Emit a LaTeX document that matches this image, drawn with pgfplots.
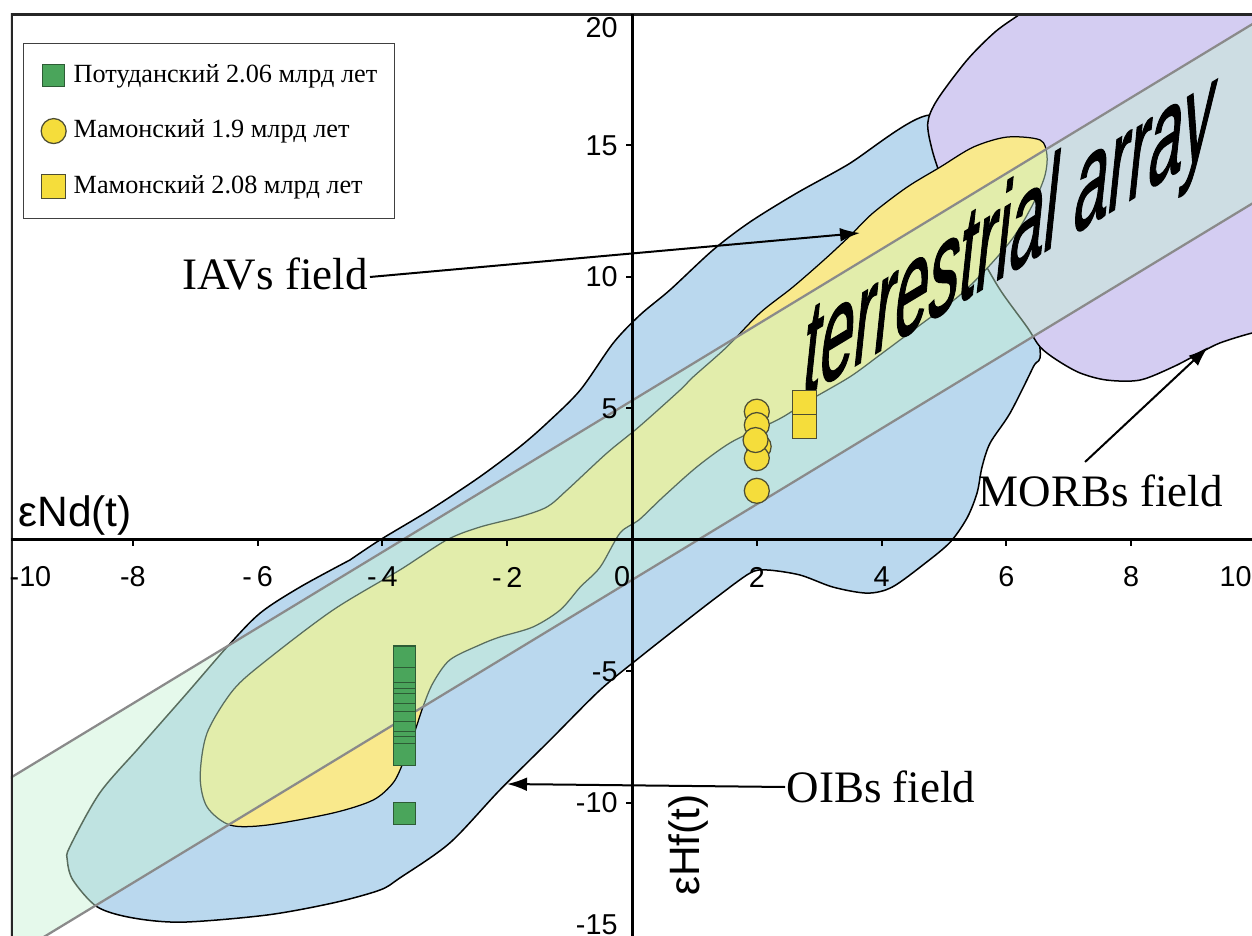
\documentclass[border=0pt]{standalone}
\usepackage{fontspec}
\setmainfont{Liberation Serif}
\setsansfont{Liberation Sans}
\newfontfamily\terrfam[FakeBold=1.5]{Liberation Sans}
\usepackage{pgfplots}
\pgfplotsset{compat=1.18}
\usetikzlibrary{arrows.meta}
\definecolor{oib}{HTML}{BAD8EE}
\definecolor{morb}{HTML}{D4CDF2}
\definecolor{iav}{HTML}{F9E98C}
\definecolor{arr}{HTML}{C6F2D2}
\definecolor{arrline}{HTML}{8A8A8A}
\definecolor{potgreen}{HTML}{4AA55B}
\definecolor{potdark}{HTML}{2D5C35}
\definecolor{mamy}{HTML}{F5DD3B}
\definecolor{mamd}{HTML}{4D4D33}
\newcommand\ticklab{\sffamily\fontsize{11.5}{13}\selectfont}
\newcommand\legfont{\rmfamily\fontsize{10.5}{12}\selectfont}
\newcommand\annfont{\rmfamily\fontsize{18}{20}\selectfont}
\newcommand\axlab{\sffamily\fontsize{17}{20}\selectfont}
\newcommand\terrfont{\terrfam\fontsize{50}{50}\selectfont}
\begin{document}
\begin{tikzpicture}
\begin{axis}[
  scale only axis, width=496.4pt, height=368.8pt,
  xmin=-9.952, xmax=9.936, ymin=-15.057, ymax=20,
  axis lines=middle, axis on top,
  axis line style={-, line width=1.2pt, black},
  xtick={-8,-6,-4,-2,2,4,6,8}, xticklabels={-8,-\,6,-\,4,-\,2,2,4,6,8},
  ytick={-10,-5,5,10,15}, yticklabels={-10,-5,5,10,15},
  tick align=outside, major tick length=2.4pt,
  tick style={line width=0.8pt, black},
  xticklabel style={font=\ticklab, anchor=center, yshift=-12.4pt, inner sep=0pt},
  yticklabel style={font=\ticklab, anchor=east, xshift=-3.2pt, inner sep=0pt},
  legend style={at={(0.0097,0.9686)}, anchor=north west, draw=black!75,
    line width=0.5pt, fill=white, font=\legfont, inner xsep=7pt, inner ysep=8pt,
    row sep=12.5pt, column sep=3pt,
    nodes={inner sep=0pt, text height=7.5pt, text depth=2pt}},
  legend cell align=left,
  legend image code/.code={\draw[#1] plot coordinates {(0pt,0pt)};},
]
% OIB field (blue)
\addplot[forget plot, fill=oib, draw=black, line width=0.6pt, smooth, tension=0.5] coordinates {
(-4.52,-0.76) (-4.04,0) (-3.24,1.14) (-2.44,2.40) (-1.80,3.54) (-1.36,4.45) (-0.83,5.70) (-0.30,7.49) (0.13,8.56) (0.61,9.51) (1.30,11.03) (1.89,12.09) (2.64,13.19) (3.45,14.26) (4.78,16.16) (5.66,14.45) (6.30,10.65) (6.54,7.22) (6.43,6.58) (6.06,4.83) (5.74,3.69) (5.61,2.78) (5.53,1.79) (5.37,0.84) (5.10,-0.08) (4.70,-0.88) (4.17,-1.79) (3.77,-2.02) (3.22,-1.79) (2.69,-1.33) (2.16,-1.14) (1.89,-1.26) (1.36,-2.17) (0.82,-3.16) (0.13,-4.45) (-0.51,-5.70) (-1.31,-7.60) (-2.12,-9.51) (-2.92,-11.52) (-3.72,-12.85) (-4.04,-13.31) (-4.79,-13.80) (-5.85,-14.26) (-7.20,-14.53) (-8.00,-14.37) (-8.57,-13.95) (-8.96,-12.93) (-9.05,-12.17) (-9.01,-11.67) (-8.53,-9.62) (-7.89,-7.87) (-7.13,-5.82) (-6.49,-4.07) (-5.96,-2.78) (-5.32,-1.79) (-4.52,-0.76)};
% MORB field (purple)
\addplot[forget plot, fill=morb, draw=black, line width=0.6pt, smooth, tension=0.5] coordinates {
(10.3,20.5) (10.3,7.98) (9.94,7.87) (9.42,7.49) (9.10,7.11) (8.67,6.58) (8.14,6.08) (7.61,6.08) (7.18,6.35) (6.81,6.84) (6.54,7.34) (6.33,8.10) (5.90,9.51) (5.53,11.03) (5.22,12.36) (4.97,13.69) (4.81,14.83) (4.74,15.86) (4.89,16.73) (5.37,18.25) (5.82,19.32) (6.22,20.0) (6.5,20.5) (10.3,20.5)};
% IAV field (yellow)
\addplot[forget plot, fill=iav, draw=black, line width=0.5pt, smooth, tension=0.5] coordinates {
(3.54,11.67) (3.13,10.76) (2.58,9.62) (2.05,8.63) (1.52,7.34) (0.98,6.20) (0.77,5.70) (0.11,4.30) (-0.40,3.31) (-1.04,1.90) (-1.36,1.26) (-1.80,0.88) (-2.44,0.49) (-2.97,0) (-3.72,-1.14) (-4.79,-2.66) (-5.85,-4.56) (-6.39,-5.70) (-6.81,-7.34) (-6.92,-9.01) (-6.81,-10.15) (-6.44,-10.84) (-5.85,-10.84) (-4.79,-10.38) (-4.15,-9.89) (-3.83,-9.24) (-3.67,-8.48) (-3.51,-7.49) (-3.35,-6.35) (-3.19,-5.44) (-2.92,-4.56) (-2.44,-3.99) (-2.12,-3.69) (-1.59,-3.31) (-1.15,-2.66) (-0.83,-1.79) (-0.51,-1.03) (-0.19,0.27) (0.11,0.76) (0.50,1.64) (1.04,2.78) (1.57,3.69) (2.10,4.30) (2.42,4.68) (2.85,5.32) (3.49,6.20) (3.97,7.03) (4.62,8.18) (5.26,9.32) (5.74,10.46) (6.14,11.60) (6.46,12.93) (6.62,13.88) (6.65,14.64) (6.54,15.21) (6.01,15.32) (5.47,14.94) (4.94,14.18) (4.41,13.42) (3.86,12.43) (3.54,11.67)};
% terrestrial array band
\addplot[forget plot, fill=arr, fill opacity=0.45, draw=none] coordinates {
(-10.5,-9.82) (10.5,20.42) (10.5,13.6) (-10.5,-16.64)};
\addplot[forget plot, draw=arrline, line width=0.9pt] coordinates {(-10.5,-9.82) (10.5,20.42)};
\addplot[forget plot, draw=arrline, line width=0.9pt] coordinates {(-10.5,-16.64) (10.5,13.6)};
% frame
\draw[line width=1.1pt, black!85] (axis cs:-9.945,-15.057) -- (axis cs:-9.945,19.99) -- (axis cs:9.936,19.99);
% arrows
\draw[line width=0.8pt, -{Latex[length=8pt,width=5.5pt]}] (axis cs:-4.199,10.0) -- (axis cs:3.654,11.673);
\draw[line width=0.8pt, -{Latex[length=8pt,width=5.5pt]}] (axis cs:2.452,-9.392) -- (axis cs:-2.003,-9.278);
\draw[line width=0.8pt, -{Latex[length=8pt,width=5.5pt]}] (axis cs:7.26,2.966) -- (axis cs:9.231,7.338);
% labels
\node[font=\annfont, anchor=base east, inner sep=0pt] at (axis cs:-4.23,9.51) {IAVs field};
\node[font=\annfont, anchor=base west, inner sep=0pt] at (axis cs:2.47,-10.0) {OIBs field};
\node[font=\annfont, anchor=base west, inner sep=0pt] at (axis cs:5.55,1.26) {MORBs field};
\node[font=\axlab, anchor=base west, inner sep=0pt] at (axis cs:-9.84,0.53) {εNd(t)};
\node[font=\axlab, rotate=90, inner sep=0pt] at (axis cs:0.90,-11.6) {εHf(t)};
\node[font=\terrfont, anchor=base west, inner sep=0pt, cm={0.488,0.294,0.115,1.1,(0pt,0pt)}] at (axis cs:2.69,5.36) {terrestrial array};
% extra tick labels
\node[font=\ticklab, anchor=center, yshift=-14.8pt] at (axis cs:-9.64,0) {-10};
\node[font=\ticklab, anchor=center, yshift=-14.8pt] at (axis cs:-0.16,0) {0};
\node[font=\ticklab, anchor=east, inner sep=0pt, yshift=-14.8pt] at (axis cs:9.936,0) {10};
\node[font=\ticklab, anchor=east, inner sep=0pt, xshift=-5.6pt] at (axis cs:0,19.47) {20};
\node[font=\ticklab, anchor=east, inner sep=0pt, xshift=-5.6pt] at (axis cs:0,-14.64) {-15};
% data
\addplot[only marks, mark=square*, mark size=4.4pt, mark options={fill=potgreen, draw=potdark, line width=0.5pt}] coordinates {
(-3.65,-4.45) (-3.65,-5.26) (-3.65,-5.84) (-3.65,-6.06) (-3.65,-6.25) (-3.65,-6.63) (-3.65,-6.95) (-3.65,-7.33) (-3.65,-7.71) (-3.65,-7.90) (-3.65,-8.15) (-3.65,-10.39)};
\addlegendentry{Потуданский 2.06 млрд лет}
\addplot[only marks, mark=*, mark size=5pt, mark options={fill=mamy, draw=mamd, line width=0.5pt}] coordinates {
(2.0,4.88) (2.0,4.37) (2.03,3.55) (2.0,3.11) (1.98,3.80) (2.0,1.87)};
\addlegendentry{Мамонский 1.9 млрд лет}
\addplot[only marks, mark=square*, mark size=4.8pt, mark options={fill=mamy, draw=mamd, line width=0.5pt}] coordinates {
(2.77,5.22) (2.77,4.32)};
\addlegendentry{Мамонский 2.08 млрд лет}
\coordinate (BL) at (axis cs:-9.952,-15.057);
\coordinate (TR) at (axis cs:9.936,20);
\end{axis}
\pgfresetboundingbox
\path[use as bounding box] ([xshift=-4.4pt]BL) rectangle ([yshift=5.6pt]TR);
\end{tikzpicture}
\end{document}
